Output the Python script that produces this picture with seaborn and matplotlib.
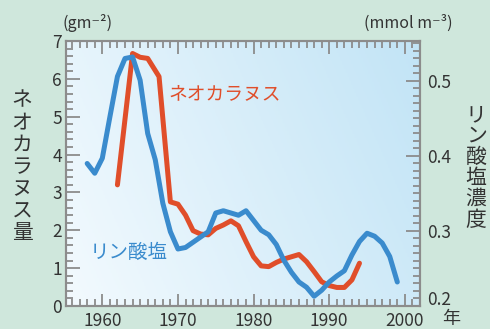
import numpy as np
import seaborn as sns
import matplotlib.pyplot as plt
from matplotlib.colors import LinearSegmentedColormap
from matplotlib.ticker import MultipleLocator
from matplotlib.transforms import ScaledTranslation

# ネオカラヌス量 (gm-2), left axis
neo_years = [1962, 1964, 1965, 1966, 1967.5, 1969, 1970, 1971, 1972, 1973, 1974, 1975,
             1976, 1977, 1978, 1979, 1980, 1981, 1982, 1983, 1984, 1985, 1986, 1987,
             1988, 1989, 1990, 1991, 1992, 1993, 1994]
neo_values = [3.2, 6.67, 6.57, 6.54, 6.06, 2.75, 2.69, 2.40, 1.99, 1.90, 1.88, 2.05,
              2.14, 2.25, 2.12, 1.70, 1.30, 1.06, 1.04, 1.15, 1.24, 1.30, 1.36, 1.17,
              0.91, 0.64, 0.54, 0.49, 0.49, 0.69, 1.13]

# リン酸塩濃度 (mmol m-3), right axis
phos_years = list(range(1958, 2000))
phos_values = [0.390, 0.377, 0.397, 0.452, 0.506, 0.530, 0.532, 0.501, 0.430, 0.395,
               0.337, 0.299, 0.276, 0.278, 0.285, 0.292, 0.299, 0.324, 0.327, 0.324,
               0.321, 0.327, 0.314, 0.301, 0.295, 0.282, 0.261, 0.245, 0.232, 0.225,
               0.213, 0.221, 0.232, 0.240, 0.247, 0.268, 0.286, 0.297, 0.293, 0.284,
               0.266, 0.232]

right_ticks = [0.2, 0.3, 0.4, 0.5]

red = '#e04e2a'
blue = '#3a8bcd'
grey = '#8c8c8c'
txt = '#333333'

sns.set_style('ticks')
plt.rcParams['font.family'] = ['Noto Sans CJK JP', 'DejaVu Sans']

fig = plt.figure(figsize=(4.9, 3.29), dpi=100, facecolor='#cfe7dc')
ax = fig.add_axes([66 / 490, 23 / 329, 354 / 490, 265 / 329])
ax2 = ax.twinx()

xlim = (1955.2, 2002)
ylim = (0, 7)

# background gradient of the plot area
gx, gy = np.meshgrid(np.linspace(0, 1, 200), np.linspace(0, 1, 200))
grad = 0.75 * gx + 0.25 * gy
cmap = LinearSegmentedColormap.from_list('bg', ['#f3fafe', '#c2e4f6'])
ax.imshow(grad, extent=[xlim[0], xlim[1], ylim[0], ylim[1]], origin='lower',
          aspect='auto', cmap=cmap, zorder=0)

sns.lineplot(x=neo_years, y=neo_values, ax=ax, color=red, linewidth=3.6, zorder=3)
sns.lineplot(x=phos_years, y=phos_values, ax=ax2, color=blue, linewidth=3.6, zorder=3)

ax.set_xlim(xlim)
ax.set_ylim(ylim)
ax2.set_ylim(0.2, 0.2 + 0.3533)

ax.xaxis.set_major_locator(MultipleLocator(10))
ax.xaxis.set_minor_locator(MultipleLocator(1))
ax.yaxis.set_major_locator(MultipleLocator(1))
ax.yaxis.set_minor_locator(MultipleLocator(0.2))
ax2.yaxis.set_minor_locator(MultipleLocator(0.01))
ax2.set_yticks(right_ticks)
ax2.set_yticklabels([f'{v:.1f}' for v in right_ticks])

ax.tick_params(axis='x', which='both', direction='in', top=True, bottom=True,
               color=grey, width=1.3, labelsize=12.5, labelcolor=txt, pad=4)
ax.tick_params(axis='x', which='major', length=9)
ax.tick_params(axis='x', which='minor', length=5)
ax.tick_params(axis='y', which='both', direction='in', left=True, right=False,
               color=grey, width=1.3, labelsize=12.5, labelcolor=txt, pad=3)
ax.tick_params(axis='y', which='major', length=10)
ax.tick_params(axis='y', which='minor', length=5)
ax2.tick_params(axis='y', which='both', direction='in', right=True,
                color=grey, width=1.3, labelsize=12.5, labelcolor=txt, pad=5)
ax2.tick_params(axis='y', which='major', length=10)
ax2.tick_params(axis='y', which='minor', length=5)

# lift the bottom right label a little, as in the original
lab = ax2.get_yticklabels()[0]
lab.set_transform(lab.get_transform() + ScaledTranslation(0, 8 / 100, fig.dpi_scale_trans))

for a in (ax, ax2):
    for s in a.spines.values():
        s.set_color(grey)
        s.set_linewidth(1.5)
ax.set_xlabel('')
ax.set_ylabel('')
ax2.set_ylabel('')

# stacked vertical axis titles
for i, ch in enumerate('ネオカラヌス量'):
    fig.text(22 / 490, 1 - (100.7 + i * 22.1) / 329, ch, ha='center', va='center',
             fontsize=15, color=txt)
for i, ch in enumerate('リン酸塩濃度'):
    fig.text(476 / 490, 1 - (115 + i * 21) / 329, ch, ha='center', va='center',
             fontsize=15, color=txt)

fig.text(451 / 490, 1 - 319 / 329, '年', ha='center', va='center', fontsize=13, color=txt)
fig.text(62 / 490, 1 - 23 / 329, '(gm⁻²)', ha='left', va='center', fontsize=11.5, color=txt)
fig.text(453 / 490, 1 - 23 / 329, '(mmol m⁻³)', ha='right', va='center', fontsize=11.5, color=txt)

fig.text(168 / 490, 1 - 94 / 329, 'ネオカラヌス', ha='left', va='center', fontsize=13.5, color=red)
fig.text(90 / 490, 1 - 252 / 329, 'リン酸塩', ha='left', va='center', fontsize=14, color=blue)

fig.savefig('out.png', dpi=100, facecolor=fig.get_facecolor())
